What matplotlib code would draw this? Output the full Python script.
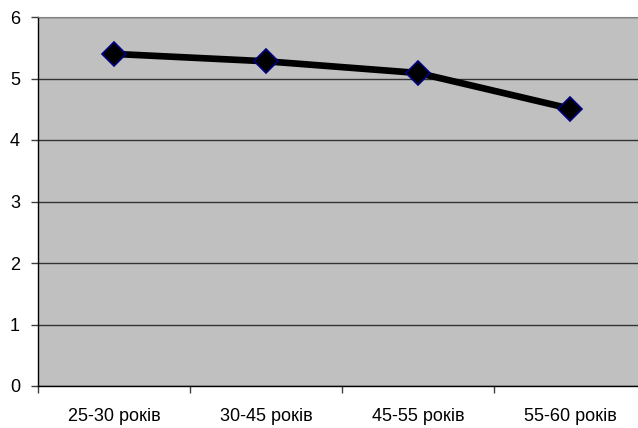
import matplotlib
matplotlib.use("Agg")
import matplotlib.pyplot as plt

categories = ["25-30 років", "30-45 років", "45-55 років", "55-60 років"]
values = [5.4, 5.28, 5.09, 4.51]
yticks = [0, 1, 2, 3, 4, 5, 6]

plt.rcParams['font.family'] = ['Liberation Sans', 'DejaVu Sans']

fig = plt.figure(figsize=(6.38, 4.28), dpi=100)
W, H = 638, 428
left, right, top, bottom = 38, 646, 17, 386
ax = fig.add_axes([left / W, 1 - bottom / H, (right - left) / W, (bottom - top) / H])
ax.set_facecolor('#C0C0C0')

x = list(range(len(categories)))
ax.plot(x, values, color='black', linewidth=4.8, marker='D', markersize=12,
        markerfacecolor='black', markeredgecolor='#000080', markeredgewidth=1.2,
        solid_joinstyle='miter', zorder=3)

ax.set_xlim(-0.5, len(categories) - 0.5)
ax.set_ylim(0, 6)
ax.set_yticks(yticks)
ax.set_yticklabels([str(t) for t in yticks], fontsize=13)
ax.set_xticks(x)
ax.set_xticklabels(categories, fontsize=13)
ax.tick_params(axis='x', length=0, pad=16)
ax.set_xticks([i - 0.5 for i in range(len(categories) + 1)], minor=True)
ax.tick_params(axis='x', which='minor', length=5, width=1, color='#404040')
ax.tick_params(axis='y', length=5, width=1, pad=8, color='#404040')
ax.grid(axis='y', color='#333333', linewidth=1)
ax.set_axisbelow(True)

ax.spines['right'].set_visible(False)
ax.spines['top'].set_color('#808080')
ax.spines['left'].set_color('black')
ax.spines['bottom'].set_color('black')
ax.spines['left'].set_linewidth(1)
ax.spines['bottom'].set_linewidth(1)

fig.savefig('out.png', dpi=100)
